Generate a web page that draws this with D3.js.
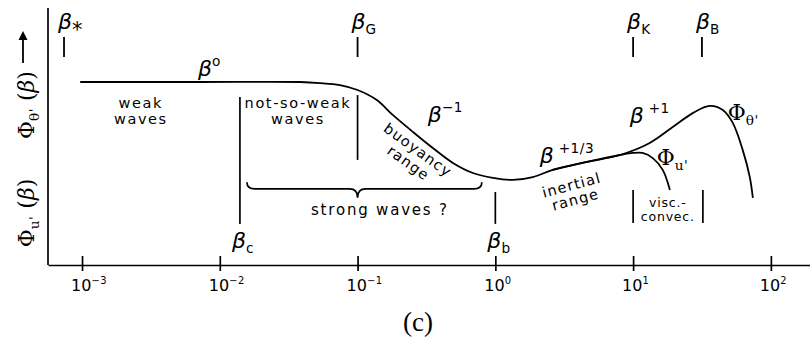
<!DOCTYPE html>
<html><head><meta charset="utf-8">
<script src="https://cdn.jsdelivr.net/npm/d3@7"></script>
<style>
html,body{margin:0;padding:0;background:#fff;}
svg{display:block;}
</style></head>
<body>
<script>
// ---------- data ----------
// beta values of the common spectrum (weak waves -> inertial range)
const betaMain = [0.00097, 0.00718, 0.0381, 0.0532, 0.0744, 0.100, 0.138, 0.180, 0.252, 0.352, 0.492, 0.687, 0.959, 1.34, 1.87, 2.61, 4.61, 8.01];
const phiMain  = [7.12, 7.12, 7.12, 7.08, 7.00, 6.81, 6.42, 5.84, 5.18, 4.55, 3.97, 3.58, 3.39, 3.31, 3.42, 3.70, 4.01, 4.28];
// temperature spectrum branch (Phi_theta')
const betaTheta = [13.2, 19.4, 27.1, 36.0, 44.8, 52.9, 62.5, 70.3, 74.0];
const phiTheta  = [4.75, 5.37, 5.91, 6.19, 6.03, 5.53, 4.47, 3.42, 2.61];
// velocity spectrum branch (Phi_u')
const betaU = [9.95, 11.7, 13.9, 16.4, 18.5];
const phiU  = [4.36, 4.36, 4.16, 3.70, 2.92];
// axis ticks
const tickValues = [1e-3, 1e-2, 1e-1, 1e0, 1e1, 1e2];
const tickExps   = ["−3", "−2", "−1", "0", "1", "2"];
// characteristic wavenumbers
const topMarks    = [{b: 0.00074, sub: "*"}, {b: 0.1, sub: "G"}, {b: 10, sub: "K"}, {b: 31.6, sub: "B"}];
const bottomMarks = [{b: 0.014, sub: "c"}, {b: 1.0, sub: "b"}];

// ---------- setup ----------
const W = 810, H = 349;
const svg = d3.select("body").append("svg").attr("width", W).attr("height", H);
const x = d3.scaleLog().domain([Math.pow(10, -3.247), Math.pow(10, 2.284)]).range([48, 810]);
const y = d3.scaleLinear().domain([0, 10]).range([265, 8]);
const X = lb => x(Math.pow(10, lb));
const SANS = "'DejaVu Sans', sans-serif";
const ink = "#000";

// rich text helper: parts = [[text, kind]], kind: n | beta | sup | sub | star
function rich(g, px, py, parts, o = {}) {
  const base = o.size || 21;
  const t = g.append("text").attr("x", px).attr("y", py)
    .attr("font-family", o.family || SANS).attr("fill", ink)
    .attr("text-anchor", o.anchor || "start");
  let cur = 0;
  parts.forEach(([s, k]) => {
    let size = base, off = 0, style = "normal";
    if (k === "sup") { size = base * 0.62; off = -base * 0.45; }
    if (k === "sub") { size = base * 0.62; off = base * 0.22; }
    if (k === "star") { size = base * 0.95; off = base * 0.35; }
    if (k === "beta") { style = "oblique"; }
    const sp = t.append("tspan").text(s).attr("font-size", size).attr("font-style", style)
      .attr("dy", off - cur);
    if (k === "sub" || k === "sup") sp.attr("letter-spacing", 0.5);
    cur = off;
  });
  return t;
}

// ---------- axes ----------
const ax = svg.append("g").attr("transform", `translate(0,${y(0)})`)
  .call(d3.axisBottom(x).tickValues(tickValues).tickSize(6).tickSizeOuter(0).tickFormat(""));
ax.select(".domain").attr("stroke", ink).attr("stroke-width", 1.7);
ax.selectAll(".tick line").attr("y1", -9).attr("y2", 6).attr("stroke", ink).attr("stroke-width", 1.7);

svg.append("line").attr("x1", x.range()[0]).attr("x2", x.range()[0])
  .attr("y1", y(10)).attr("y2", y(0)).attr("stroke", ink).attr("stroke-width", 1.7);

tickValues.forEach((v, i) => {
  rich(svg, x(v) - 11, 291, [["10", "n"], [tickExps[i], "sup"]], {size: 16});
});

// y-axis labels
const yl1 = svg.append("g").attr("transform", `translate(34,105) rotate(-90)`);
rich(yl1, 0, 0, [["Φ", "n"], ["θ'", "sub"], [" (", "n"], ["β", "beta"], [")", "n"]], {size: 22, anchor: "middle", family: "'DejaVu Serif', serif"});
const yl2 = svg.append("g").attr("transform", `translate(34,213) rotate(-90)`);
rich(yl2, 0, 0, [["Φ", "n"], ["u'", "sub"], [" (", "n"], ["β", "beta"], [")", "n"]], {size: 22, anchor: "middle", family: "'DejaVu Serif', serif"});
svg.append("line").attr("x1", 23).attr("x2", 23).attr("y1", 63).attr("y2", 38)
  .attr("stroke", ink).attr("stroke-width", 1.8);
svg.append("path").attr("d", "M23,31 L18.5,40 L27.5,40 Z").attr("fill", ink);

// ---------- curves ----------
const line = d3.line().x(d => x(d[0])).y(d => y(d[1])).curve(d3.curveCatmullRom.alpha(0.5));
const mainPts = betaMain.map((b, i) => [b, phiMain[i]]);
const thetaPts = mainPts.concat(betaTheta.map((b, i) => [b, phiTheta[i]]));
const uPts = mainPts.slice(-3).concat(betaU.map((b, i) => [b, phiU[i]]));
[thetaPts, uPts].forEach(p => svg.append("path").attr("d", line(p))
  .attr("fill", "none").attr("stroke", ink).attr("stroke-width", 1.8));

// ---------- characteristic marks ----------
topMarks.forEach(m => {
  svg.append("line").attr("x1", x(m.b)).attr("x2", x(m.b)).attr("y1", 37).attr("y2", 57)
    .attr("stroke", ink).attr("stroke-width", 1.8);
  rich(svg, x(m.b) - 6, 29, [["β", "beta"], [m.sub, m.sub === "*" ? "star" : "sub"]], {size: 22});
});
bottomMarks.forEach(m => {
  rich(svg, x(m.b) - 8, 248, [["β", "beta"], [m.sub, "sub"]], {size: 22});
});

// vertical separators
const vlines = [
  {b: 0.014, v0: 6.54, v1: 1.60},
  {b: 0.1,   v0: 6.61, v1: 4.09},
  {b: 1.0,   v0: 2.84, v1: 1.60},
  {b: 10,    v0: 2.92, v1: 1.63},
  {b: 32.1,  v0: 2.92, v1: 1.63}
];
vlines.forEach(l => svg.append("line").attr("x1", x(l.b)).attr("x2", x(l.b))
  .attr("y1", y(l.v0)).attr("y2", y(l.v1)).attr("stroke", ink).attr("stroke-width", 1.7));

// power-law labels
rich(svg, X(-2.159), y(7.35), [["β", "beta"], ["o", "sup"]], {size: 22});
rich(svg, X(-0.49), y(5.56), [["β", "beta"], ["−1", "sup"]], {size: 22});
rich(svg, X(0.323), y(3.97), [["β", "beta"], [" +1/3", "sup"]], {size: 22});
rich(svg, X(0.976), y(5.53), [["β", "beta"], [" +1", "sup"]], {size: 22});
rich(svg, X(1.687), y(5.64), [["Φ", "n"], ["θ'", "sub"]], {size: 22, family: "'DejaVu Serif', serif"});
rich(svg, X(1.172), y(3.89), [["Φ", "n"], ["u'", "sub"]], {size: 22, family: "'DejaVu Serif', serif"});

// range labels
function words(g, px, py, lines, size, ls, gap) {
  lines.forEach((s, i) => g.append("text").attr("x", px).attr("y", py + i * gap)
    .attr("text-anchor", "middle").attr("font-family", SANS).attr("font-size", size)
    .attr("letter-spacing", ls).attr("fill", ink).text(s));
}
words(svg, X(-2.573), y(6.1), ["weak", "waves"], 14.5, 1.6, 16);
words(svg, X(-1.433), y(6.1), ["not-so-weak", "waves"], 14.5, 1.6, 16);
words(svg, X(-0.838), y(1.95), ["strong waves ?"], 15, 1.8, 14);
words(svg, X(1.252), y(2.25), ["visc.-", "convec."], 12.5, 0.8, 14);

const gb = svg.append("g").attr("transform", `translate(${X(-0.541)},${y(4.63)}) rotate(36)`);
words(gb, 0, 10, ["buoyancy", "range"], 14.5, 1.2, 16);
const gi = svg.append("g").attr("transform", `translate(${X(0.555)},${y(3.07)}) rotate(-15)`);
words(gi, 0, 4, ["inertial", "range"], 14.5, 1.2, 15);

// brace over "strong waves ?"
const bl = X(-1.803), br = X(-0.098), bm = X(-1.0);
const by = y(2.96), bt = y(3.22), bc = y(2.62);
const brace = d3.path();
brace.moveTo(bl, bt);
brace.quadraticCurveTo(bl, by, bl + 8, by);
brace.lineTo(bm - 8, by);
brace.quadraticCurveTo(bm, by, bm, bc);
brace.quadraticCurveTo(bm, by, bm + 8, by);
brace.lineTo(br - 8, by);
brace.quadraticCurveTo(br, by, br, bt);
svg.append("path").attr("d", brace.toString()).attr("fill", "none")
  .attr("stroke", ink).attr("stroke-width", 1.7);

// caption
svg.append("text").attr("x", 418).attr("y", 331).attr("text-anchor", "middle")
  .attr("font-family", "'Liberation Serif', 'DejaVu Serif', serif").attr("font-size", 27)
  .attr("fill", ink).text("(c)");
</script>
</body></html>
